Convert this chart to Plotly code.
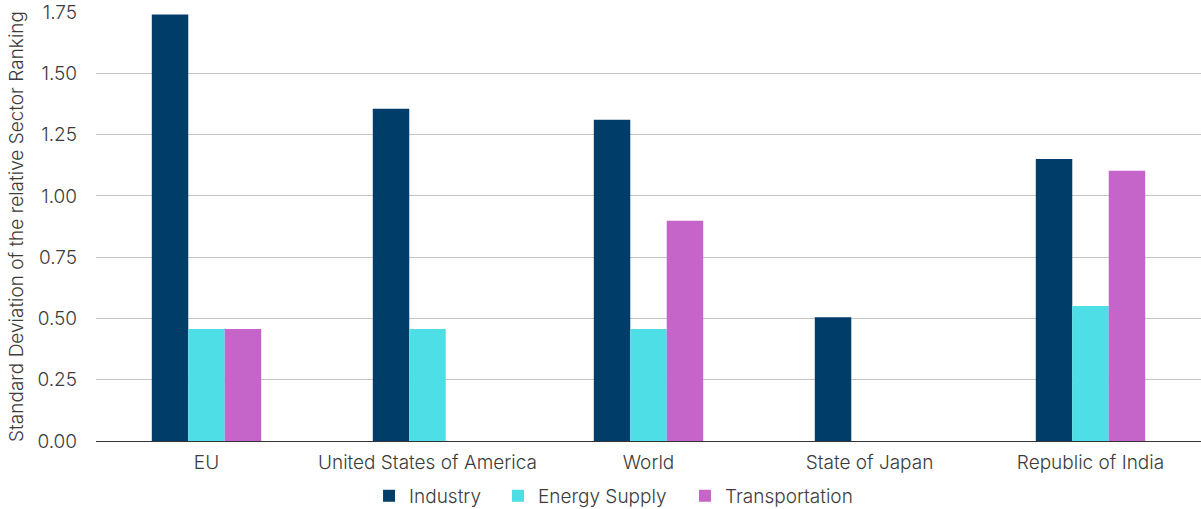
import plotly.graph_objects as go

categories = ["EU", "United States of America", "World", "State of Japan", "Republic of India"]
industry = [1.74, 1.355, 1.31, 0.505, 1.15]
energy_supply = [0.457, 0.457, 0.457, None, 0.551]
transportation = [0.457, None, 0.898, None, 1.102]

font_family = "Inter, Roboto, sans-serif"

fig = go.Figure()
fig.add_bar(name="Industry", x=categories, y=industry, marker_color="#003D69", marker_line_width=0,
            legend="legend")
fig.add_bar(name="Energy Supply", x=categories, y=energy_supply, marker_color="#4EDEE6", marker_line_width=0,
            legend="legend2")
fig.add_bar(name="Transportation", x=categories, y=transportation, marker_color="#C564C9", marker_line_width=0,
            legend="legend3")

leg_common = dict(orientation="h", y=-0.128, yanchor="middle", xanchor="left",
                  font=dict(size=19), itemwidth=30, bgcolor="rgba(0,0,0,0)")

fig.update_layout(
    width=1201, height=509,
    margin=dict(l=96, r=0, t=12, b=68, autoexpand=False),
    barmode="group", bargap=0.505, bargroupgap=0,
    plot_bgcolor="white", paper_bgcolor="white",
    font=dict(family=font_family, size=19, color="#3c3c3c", weight=300),
    legend=dict(x=0.2471, **leg_common),
    legend2=dict(x=0.3638, **leg_common),
    legend3=dict(x=0.533, **leg_common),
    showlegend=True,
)
fig.update_xaxes(showline=True, linecolor="#333333", linewidth=1, ticks="", tickfont=dict(size=19),
                 ticklabelstandoff=4, automargin=False)
fig.update_yaxes(range=[0, 1.75], dtick=0.25, tickformat=".2f", showgrid=True,
                 gridcolor="#c4c4c4", gridwidth=1, zeroline=False, automargin=False,
                 title=dict(text="Standard Deviation of the relative Sector Ranking", font=dict(size=19), standoff=8),
                 tickfont=dict(size=19), ticks="", ticklen=0, ticklabelstandoff=18)

fig.write_html("out.html")
